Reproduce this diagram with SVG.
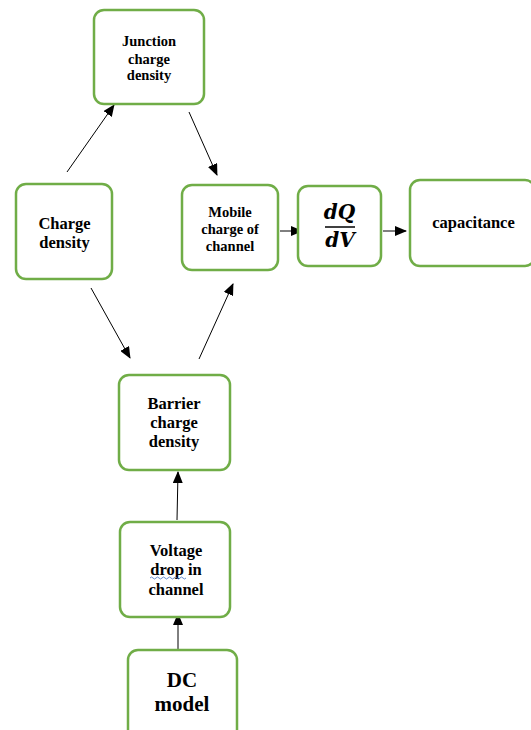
<svg xmlns="http://www.w3.org/2000/svg" width="531" height="730" viewBox="0 0 531 730">
<style>
.box{fill:#fff;stroke:#70AD47;stroke-width:2.5}
.t{font-family:'Liberation Serif','Times New Roman',serif;font-weight:bold;fill:#000;text-anchor:middle}
.s14{font-size:14.5px}
.s16{font-size:16.5px}
.s21{font-size:21px}
.m{font-style:italic;font-weight:bold;font-size:20px;font-family:'DejaVu Serif',serif;fill:#000;text-anchor:middle}
.c{stroke:#000;stroke-width:1;fill:none;marker-end:url(#ah)}
</style>
<defs>
<marker id="ah" markerWidth="12" markerHeight="10" refX="11" refY="5" orient="auto" markerUnits="userSpaceOnUse">
<path d="M0,0 L12,5 L0,10 Z" fill="#000"/>
</marker>
</defs>
<rect width="531" height="730" fill="#fff"/>
<g id="connectors">
<line class="c" x1="67" y1="172" x2="114" y2="105"/>
<line class="c" x1="189" y1="112" x2="217" y2="175"/>
<line class="c" x1="91" y1="288" x2="130" y2="358"/>
<line class="c" x1="199" y1="359" x2="233" y2="284"/>
<line class="c" x1="177" y1="520" x2="178" y2="472"/>
<line class="c" x1="178" y1="650" x2="178" y2="614"/>
<line class="c" x1="280" y1="231" x2="302" y2="231"/>
<line class="c" x1="383" y1="231" x2="406" y2="231"/>
</g>
<g id="junction">
<rect class="box" x="94" y="10" width="110" height="94" rx="10"/>
<text class="t s14" x="149" y="46">Junction</text>
<text class="t s14" x="149" y="64">charge</text>
<text class="t s14" x="149" y="80">density</text>
</g>
<g id="charge">
<rect class="box" x="16" y="184" width="96" height="95" rx="10"/>
<text class="t s16" x="64.5" y="229">Charge</text>
<text class="t s16" x="64.5" y="248">density</text>
</g>
<g id="mobile">
<rect class="box" x="182" y="185" width="96" height="85" rx="10"/>
<text class="t s14" x="230" y="217">Mobile</text>
<text class="t s14" x="230" y="234">charge of</text>
<text class="t s14" x="230" y="251">channel</text>
</g>
<g id="dqdv">
<rect class="box" x="298" y="186" width="83" height="80" rx="10"/>
<text class="m" x="339.5" y="219">dQ</text>
<line x1="325" y1="227" x2="355" y2="227" stroke="#000" stroke-width="1.5"/>
<text class="m" x="340" y="247">dV</text>
</g>
<g id="capacitance">
<rect class="box" x="410" y="180" width="125" height="86" rx="10"/>
<text class="t s16" x="473.5" y="228">capacitance</text>
</g>
<g id="barrier">
<rect class="box" x="119" y="375" width="111" height="95" rx="10"/>
<text class="t s16" x="174" y="409">Barrier</text>
<text class="t s16" x="174" y="428">charge</text>
<text class="t s16" x="174" y="447">density</text>
</g>
<g id="voltage">
<rect class="box" x="120" y="522" width="110" height="95" rx="10"/>
<text class="t s16" x="176" y="556">Voltage</text>
<text class="t s16" x="176" y="575">drop in</text>
<text class="t s16" x="176" y="595">channel</text>
<path d="M150,578 q1.5,-2 3,0 t3,0 t3,0 t3,0 t3,0 t3,0 t3,0 t3,0 t3,0 t3,0 t3,0 t3,0" fill="none" stroke="#4472C4" stroke-width="0.8"/>
</g>
<g id="dc">
<rect class="box" x="128" y="650" width="109" height="90" rx="10"/>
<text class="t s21" x="182" y="687">DC</text>
<text class="t s21" x="182" y="711">model</text>
</g>
</svg>
